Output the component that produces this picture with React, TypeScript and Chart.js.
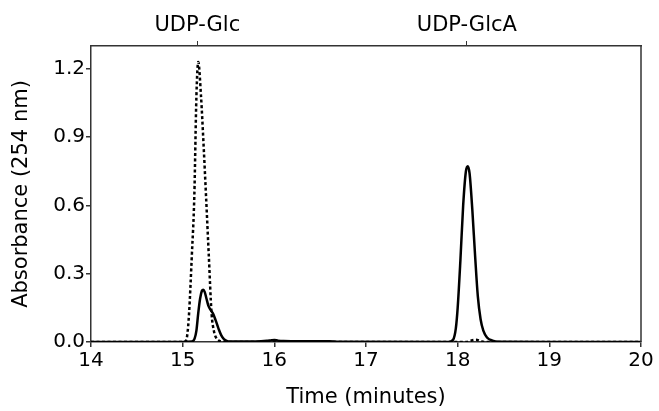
import React, { useEffect, useRef } from "react";
import { Chart, registerables } from "chart.js";

Chart.register(...registerables);

// Solid trace (time in minutes, absorbance at 254 nm)
const solidTime = [
  14.0, 15.0, 15.1, 15.13, 15.15, 15.17, 15.19, 15.21, 15.225, 15.24, 15.26, 15.28, 15.31, 15.33,
  15.36, 15.39, 15.42, 15.45, 15.48, 15.52, 15.8, 15.92, 15.97, 16.0, 16.04, 16.1, 16.3, 16.6,
  16.7, 17.9, 17.95, 17.98, 18.0, 18.03, 18.06, 18.09, 18.11, 18.13, 18.16, 18.19, 18.22, 18.25,
  18.28, 18.32, 18.38, 18.45, 19.0, 20.0,
];
const solidAbs = [
  0.0, 0.0, 0.002, 0.015, 0.05, 0.127, 0.19, 0.225, 0.23, 0.22, 0.19, 0.16, 0.138, 0.126,
  0.095, 0.06, 0.03, 0.013, 0.005, 0.002, 0.002, 0.005, 0.008, 0.009, 0.006, 0.004, 0.003, 0.003,
  0.001, 0.0, 0.01, 0.06, 0.15, 0.36, 0.6, 0.75, 0.772, 0.74, 0.58, 0.38, 0.2, 0.1,
  0.05, 0.02, 0.006, 0.001, 0.0, 0.0,
];

// Dashed trace
const dashedTime = [
  14.0, 15.0, 15.03, 15.05, 15.07, 15.1, 15.127, 15.15, 15.17, 15.2, 15.23, 15.255, 15.285,
  15.315, 15.34, 15.37, 15.42, 15.5, 18.1, 18.16, 18.2, 18.25, 18.3, 20.0,
];
const dashedAbs = [
  0.0, 0.0, 0.003, 0.03, 0.127, 0.38, 0.64, 1.08, 1.23, 1.08, 0.85, 0.64, 0.38,
  0.127, 0.05, 0.015, 0.003, 0.0, 0.0, 0.008, 0.01, 0.004, 0.0, 0.0,
];

// Top axis markers
const topTickValues = [15.16, 18.1];
const topTickLabels = ["UDP-Glc", "UDP-GlcA"];

const FONT = "'DejaVu Sans', sans-serif";
const AXIS_COLOR = "#333333";

export default function App() {
  const canvasRef = useRef<HTMLCanvasElement | null>(null);

  useEffect(() => {
    if (!canvasRef.current) return;
    const solid = solidTime.map((t, i) => ({ x: t, y: solidAbs[i] }));
    const dashed = dashedTime.map((t, i) => ({ x: t, y: dashedAbs[i] }));

    const frame = {
      id: "frameRight",
      afterDraw(chart: any) {
        const { ctx, chartArea } = chart;
        ctx.save();
        ctx.strokeStyle = AXIS_COLOR;
        ctx.lineWidth = 1.5;
        ctx.beginPath();
        ctx.moveTo(chartArea.right, chartArea.top);
        ctx.lineTo(chartArea.right, chartArea.bottom);
        ctx.stroke();
        ctx.restore();
      },
    };

    const chart = new Chart(canvasRef.current, {
      type: "line",
      data: {
        datasets: [
          {
            label: "dashed",
            data: dashed,
            borderColor: "#000000",
            borderWidth: 2.5,
            borderDash: [3, 2.5],
            pointRadius: 0,
            cubicInterpolationMode: "monotone",
            fill: false,
          },
          {
            label: "solid",
            data: solid,
            borderColor: "#000000",
            borderWidth: 2.5,
            pointRadius: 0,
            cubicInterpolationMode: "monotone",
            fill: false,
          },
        ],
      },
      options: {
        responsive: false,
        animation: false,
        layout: { padding: { left: 0, right: 18, top: 0, bottom: 0 } },
        plugins: { legend: { display: false }, tooltip: { enabled: false } },
        scales: {
          x: {
            type: "linear",
            position: "bottom",
            min: 14,
            max: 20,
            ticks: {
              stepSize: 1,
              color: "#000",
              font: { family: FONT, size: 20 },
              padding: 2,
              maxRotation: 0,
            },
            grid: { drawOnChartArea: false, tickLength: 5, color: AXIS_COLOR, lineWidth: 1.5 },
            border: { color: AXIS_COLOR, width: 1.5 },
            title: {
              display: true,
              text: "Time (minutes)",
              color: "#000",
              font: { family: FONT, size: 21 },
              padding: { top: 0, bottom: 1 },
            },
            afterFit: (s: any) => {
              s.height = 69;
            },
          },
          x2: {
            type: "linear",
            position: "top",
            min: 14,
            max: 20,
            afterBuildTicks: (s: any) => {
              s.ticks = topTickValues.map((v) => ({ value: v }));
            },
            ticks: {
              color: "#000",
              font: { family: FONT, size: 21 },
              padding: 3,
              maxRotation: 0,
              autoSkip: false,
              callback: (_v: any, i: number) => topTickLabels[i],
            },
            grid: { drawOnChartArea: false, tickLength: 5, color: AXIS_COLOR, lineWidth: 1 },
            border: { color: AXIS_COLOR, width: 1.5 },
            afterFit: (s: any) => {
              s.height = 46;
            },
          },
          y: {
            type: "linear",
            min: 0,
            max: 1.3,
            ticks: {
              stepSize: 0.3,
              includeBounds: false,
              color: "#000",
              font: { family: FONT, size: 20 },
              padding: 1,
              callback: (v: any) => Number(v).toFixed(1),
            },
            grid: { drawOnChartArea: false, tickLength: 5, color: AXIS_COLOR, lineWidth: 1.5 },
            border: { color: AXIS_COLOR, width: 1.5 },
            title: {
              display: true,
              text: "Absorbance (254 nm)",
              color: "#000",
              font: { family: FONT, size: 21 },
              padding: { top: 9, bottom: 0 },
            },
            afterFit: (s: any) => {
              s.width = 91;
            },
          },
        },
      },
      plugins: [frame],
    } as any);
    return () => chart.destroy();
  }, []);

  return (
    <div style={{ position: "absolute", left: 0, top: 0, width: 659, height: 411, background: "#fff" }}>
      <canvas ref={canvasRef} width={659} height={411} />
    </div>
  );
}
